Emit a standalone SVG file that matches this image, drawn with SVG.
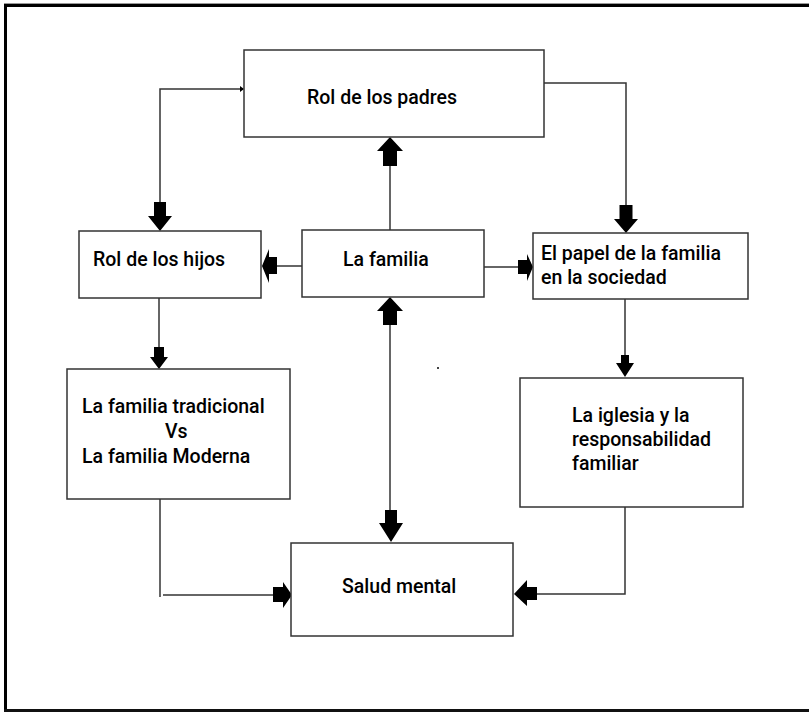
<svg xmlns="http://www.w3.org/2000/svg" width="809" height="712" viewBox="0 0 809 712">
<style>
.box{fill:#fff;stroke:#333;stroke-width:1.5}
.lbl{font-family:Roboto,"Liberation Sans",sans-serif;font-size:19.5px;font-weight:500;fill:#000}
.ln{fill:none;stroke:#333;stroke-width:1.5}
.ah{fill:#000;stroke:none}
</style>
<rect x="0" y="0" width="809" height="712" fill="#fff"/>
<g id="frame">
<rect x="4" y="3" width="805" height="1" fill="#999"/>
<rect x="4" y="4" width="805" height="3" fill="#000"/>
<rect x="4" y="4" width="3" height="707" fill="#000"/>
<rect x="4" y="709" width="805" height="3" fill="#111"/>
</g>
<g id="connectors">
<polyline class="ln" points="160,203 160,89 243,89"/>
<path class="ah" d="M244,89 L240,86 L240,92 Z"/>
<polyline class="ln" points="544,83 626,83 626,206"/>
<line class="ln" x1="390" y1="165" x2="390" y2="230"/>
<line class="ln" x1="302" y1="266" x2="276" y2="266"/>
<line class="ln" x1="484" y1="267" x2="519" y2="267"/>
<line class="ln" x1="390" y1="324" x2="390" y2="511"/>
<line class="ln" x1="159" y1="298" x2="159" y2="348"/>
<line class="ln" x1="625" y1="299" x2="625" y2="356"/>
<line class="ln" x1="160" y1="499" x2="160" y2="597"/>
<line class="ln" x1="163" y1="595" x2="274" y2="595"/>
<polyline class="ln" points="625,507 625,594 536,594"/>
<path class="ah" d="M390,137 L403,151 L397,151 L397,166 L383,166 L383,151 L377,151 Z"/>
<path class="ah" d="M160,231 L172,216 L166,216 L166,202 L154,202 L154,216 L148,216 Z"/>
<path class="ah" d="M626,233 L638,219 L632.5,219 L632.5,205 L619.5,205 L619.5,219 L614,219 Z"/>
<path class="ah" d="M262,266 L269,249 L269,257 L277,257 L277,274 L269,274 L269,283 Z"/>
<path class="ah" d="M533,267 L527,254 L527,260 L518,260 L518,274 L527,274 L527,281 Z"/>
<path class="ah" d="M390,297 L403,311 L397,311 L397,325 L383,325 L383,311 L377,311 Z"/>
<path class="ah" d="M391,542 L403,523 L397,523 L397,510 L385,510 L385,523 L379,523 Z"/>
<path class="ah" d="M159,369 L168,357 L164,357 L164,347 L154,347 L154,357 L150,357 Z"/>
<path class="ah" d="M625,377 L634,363 L629,363 L629,355 L621,355 L621,363 L616,363 Z"/>
<path class="ah" d="M292,595 L283,582 L283,587 L273,587 L273,602 L283,602 L283,608 Z"/>
<path class="ah" d="M514,594 L527,580 L527,587 L537,587 L537,600 L527,600 L527,606 Z"/>
</g>
<g id="n-padres">
<rect class="box" x="244" y="50" width="300" height="87"/>
<text class="lbl" x="307" y="104">Rol de los padres</text>
</g>
<g id="n-hijos">
<rect class="box" x="79" y="231" width="182" height="67"/>
<text class="lbl" x="93" y="266">Rol de los hijos</text>
</g>
<g id="n-familia">
<rect class="box" x="302" y="230" width="182" height="67"/>
<text class="lbl" x="343" y="266">La familia</text>
</g>
<g id="n-papel">
<rect class="box" x="533" y="233" width="215" height="66"/>
<text class="lbl" x="541" y="260">El papel de la familia</text>
<text class="lbl" x="541" y="284">en la sociedad</text>
</g>
<g id="n-tradicional">
<rect class="box" x="67" y="369" width="223" height="130"/>
<text class="lbl" x="82" y="413">La familia tradicional</text>
<text class="lbl" x="165" y="438">Vs</text>
<text class="lbl" x="82" y="463">La familia Moderna</text>
</g>
<g id="n-iglesia">
<rect class="box" x="520" y="378" width="223" height="129"/>
<text class="lbl" x="572" y="422">La iglesia y la</text>
<text class="lbl" x="572" y="446">responsabilidad</text>
<text class="lbl" x="572" y="470">familiar</text>
</g>
<g id="n-salud">
<rect class="box" x="291" y="543" width="222" height="93"/>
<text class="lbl" x="342" y="593">Salud mental</text>
</g>
<rect x="437" y="367" width="2" height="2" fill="#444"/>
</svg>
